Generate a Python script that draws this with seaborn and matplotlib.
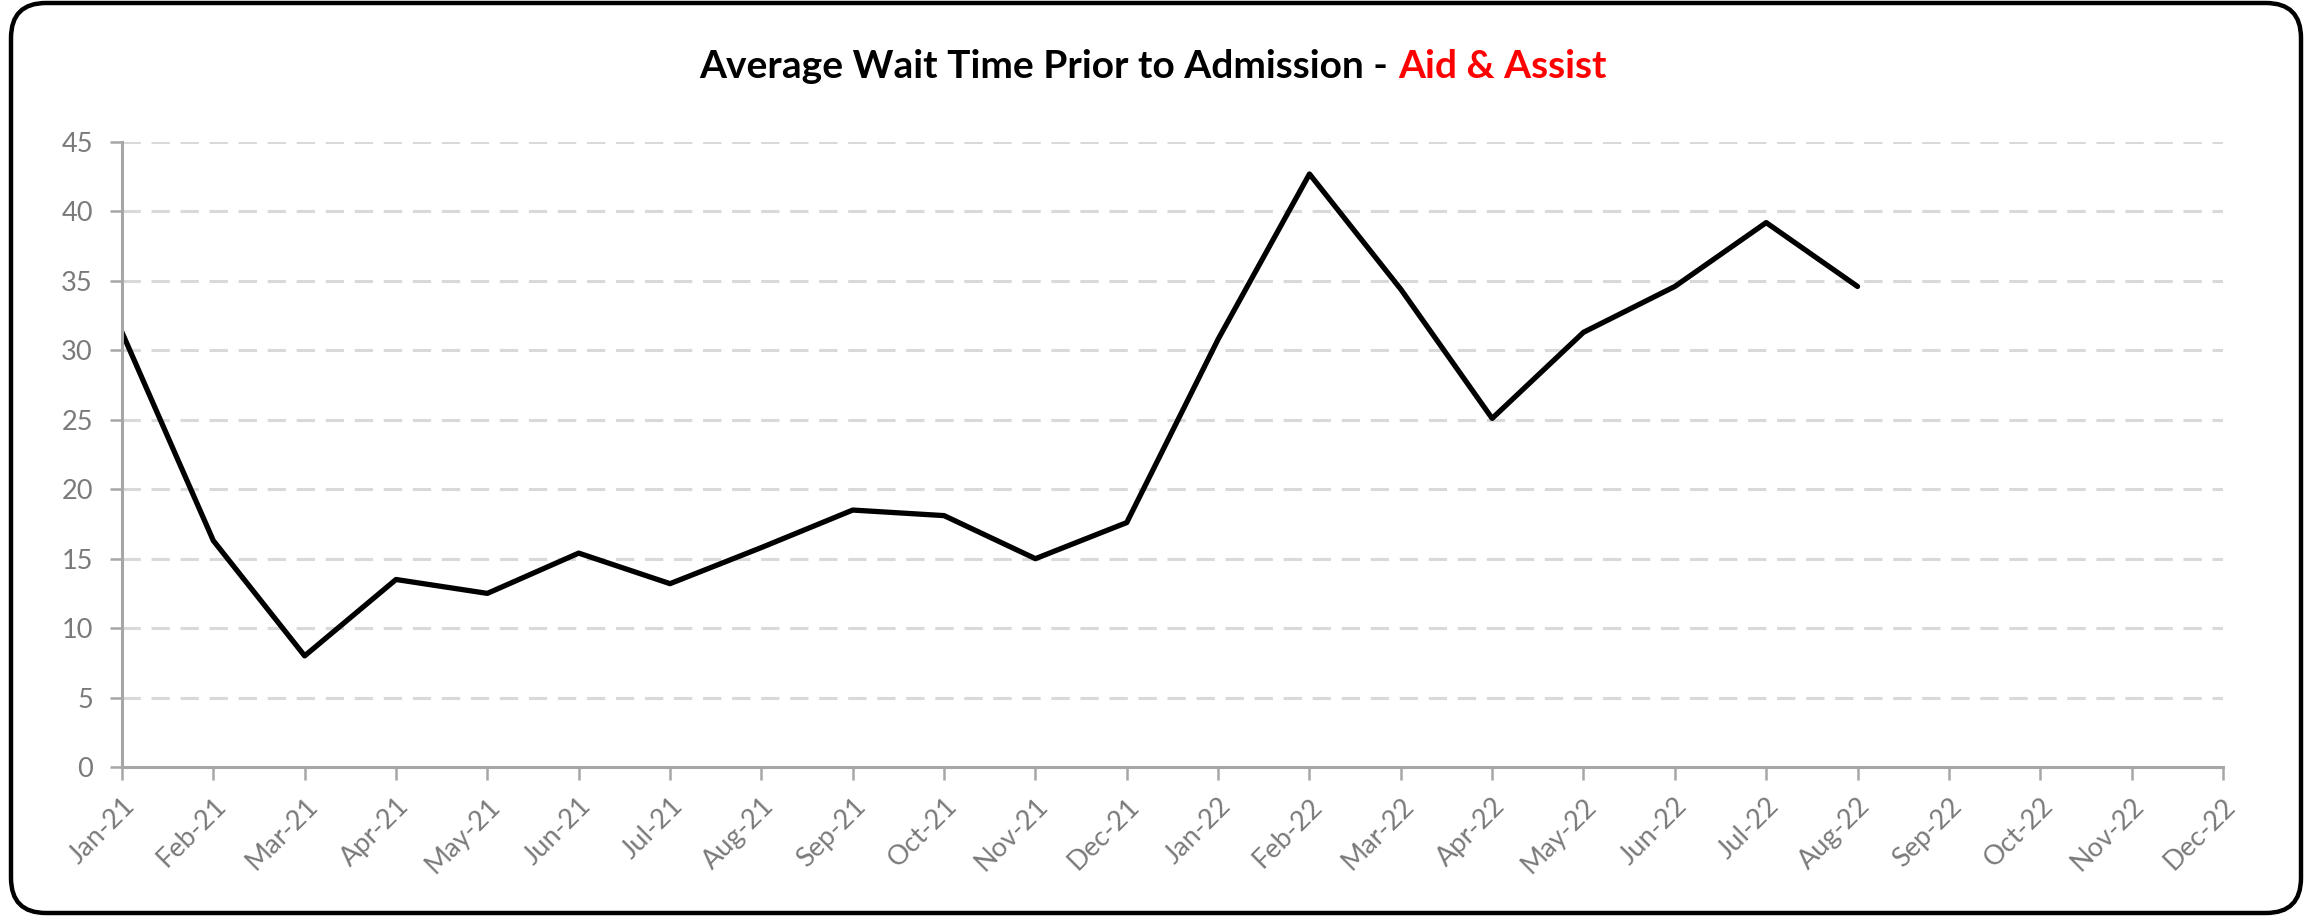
import pandas as pd
import matplotlib.pyplot as plt
import seaborn as sns
from matplotlib.patches import FancyBboxPatch

# ---- data ----
months = ['Jan-21', 'Feb-21', 'Mar-21', 'Apr-21', 'May-21', 'Jun-21',
          'Jul-21', 'Aug-21', 'Sep-21', 'Oct-21', 'Nov-21', 'Dec-21',
          'Jan-22', 'Feb-22', 'Mar-22', 'Apr-22', 'May-22', 'Jun-22',
          'Jul-22', 'Aug-22', 'Sep-22', 'Oct-22', 'Nov-22', 'Dec-22']
wait_time = [31.3, 16.3, 8.0, 13.5, 12.5, 15.4, 13.2, 15.8, 18.5, 18.1,
             15.0, 17.6, 30.8, 42.7, 34.4, 25.1, 31.3, 34.6, 39.2, 34.6]
y_ticks = [0, 5, 10, 15, 20, 25, 30, 35, 40, 45]

df = pd.DataFrame({'idx': range(len(wait_time)), 'wait': wait_time})

sns.set_style('white')
plt.rcParams['font.family'] = ['Lato', 'DejaVu Sans']

fig = plt.figure(figsize=(23.1, 9.17), dpi=100)
ax = fig.add_axes([0.0528, 0.1636, 0.9095, 0.6815])

sns.lineplot(data=df, x='idx', y='wait', color='black', linewidth=3.8, ax=ax)

ax.set_xlim(0, len(months) - 1)
ax.set_ylim(0, 45)
ax.set_yticks(y_ticks)
ax.set_xticks(range(len(months)))
ax.set_xticklabels(months, rotation=45, ha='right', rotation_mode='anchor')
ax.set_xlabel('')
ax.set_ylabel('')

# dashed horizontal gridlines
for y in y_ticks[1:]:
    ax.axhline(y, color='#d9d9d9', lw=2.2, ls=(0, (6, 3.5)), zorder=0)

for side in ['top', 'right']:
    ax.spines[side].set_visible(False)
for side in ['left', 'bottom']:
    ax.spines[side].set_color('#a6a6a6')
    ax.spines[side].set_linewidth(2.2)

ax.tick_params(axis='both', colors='#a6a6a6', length=9, width=1.8,
               labelcolor='#7a7a7a', labelsize=19.5, direction='out')
ax.tick_params(axis='y', pad=12)
ax.tick_params(axis='x', pad=10)
ax.xaxis.set_ticks_position('bottom')
ax.yaxis.set_ticks_position('left')

# title in two colours
t1 = fig.text(0.5, 0.928, 'Average Wait Time Prior to Admission - ',
              fontsize=28, fontweight='bold', color='black', ha='left', va='center')
t2 = fig.text(0.5, 0.928, 'Aid & Assist',
              fontsize=28, fontweight='bold', color='#ff0000', ha='left', va='center')
fig.canvas.draw()
r = fig.canvas.get_renderer()
w1 = t1.get_window_extent(r).width
w2 = t2.get_window_extent(r).width
fw = fig.bbox.width
x0 = (1153 - (w1 + w2) / 2) / fw
t1.set_x(x0)
t2.set_x(x0 + w1 / fw)

# rounded frame around the chart
frame = FancyBboxPatch((0.11, 0.04), 22.9, 9.10,
                       boxstyle='round,pad=0,rounding_size=0.35',
                       transform=fig.dpi_scale_trans, fill=False,
                       edgecolor='black', linewidth=3.2)
fig.patches.append(frame)

plt.savefig('out.png', dpi=100)
